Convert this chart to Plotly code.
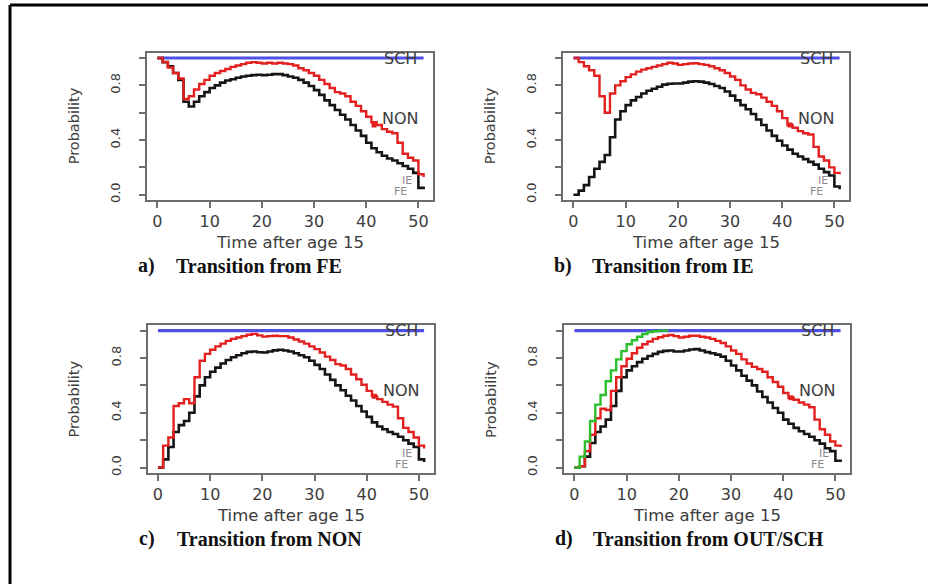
import plotly.graph_objects as go

W, H = 928, 587

# ---------------- data ----------------
time = list(range(52))

# Panel a) Transition from FE
a_red = [1.0, 0.97, 0.93, 0.89, 0.85, 0.70, 0.72, 0.77, 0.81, 0.84, 0.87, 0.89, 0.905, 0.92, 0.935,
         0.945, 0.955, 0.965, 0.97, 0.965, 0.96, 0.965, 0.96, 0.965, 0.96, 0.955, 0.945, 0.925, 0.91,
         0.89, 0.87, 0.84, 0.81, 0.78, 0.75, 0.74, 0.72, 0.68, 0.65, 0.61, 0.57, 0.53, 0.51, 0.48,
         0.46, 0.45, 0.38, 0.30, 0.27, 0.25, 0.15, 0.13]
a_black = [1.0, 0.97, 0.94, 0.89, 0.84, 0.68, 0.645, 0.68, 0.72, 0.75, 0.78, 0.80, 0.82, 0.835, 0.845,
           0.855, 0.865, 0.87, 0.875, 0.878, 0.875, 0.878, 0.882, 0.882, 0.875, 0.865, 0.855, 0.84,
           0.82, 0.795, 0.765, 0.73, 0.69, 0.655, 0.62, 0.585, 0.55, 0.51, 0.47, 0.43, 0.38, 0.34,
           0.31, 0.285, 0.265, 0.25, 0.23, 0.21, 0.19, 0.16, 0.05, 0.04]

# Panel b) Transition from IE
b_red = [1.0, 0.97, 0.94, 0.91, 0.87, 0.72, 0.60, 0.74, 0.80, 0.83, 0.86, 0.88, 0.90, 0.915, 0.925,
         0.935, 0.945, 0.955, 0.965, 0.96, 0.95, 0.955, 0.96, 0.962, 0.955, 0.95, 0.94, 0.925, 0.91,
         0.89, 0.865, 0.84, 0.80, 0.77, 0.745, 0.735, 0.71, 0.68, 0.65, 0.61, 0.56, 0.51, 0.49, 0.465,
         0.45, 0.44, 0.35, 0.28, 0.25, 0.20, 0.16, 0.15]
b_black = [0.0, 0.03, 0.07, 0.13, 0.19, 0.24, 0.29, 0.42, 0.55, 0.61, 0.655, 0.69, 0.715, 0.74, 0.76,
           0.775, 0.79, 0.805, 0.812, 0.813, 0.813, 0.82, 0.827, 0.83, 0.827, 0.82, 0.81, 0.795, 0.78,
           0.755, 0.725, 0.69, 0.655, 0.625, 0.59, 0.55, 0.51, 0.47, 0.43, 0.395, 0.36, 0.33, 0.30,
           0.28, 0.26, 0.24, 0.22, 0.19, 0.165, 0.14, 0.06, 0.04]

# Panel c) Transition from NON
c_red = [0.0, 0.16, 0.22, 0.45, 0.47, 0.50, 0.47, 0.66, 0.78, 0.83, 0.86, 0.885, 0.905, 0.925, 0.94,
         0.95, 0.96, 0.97, 0.976, 0.965, 0.956, 0.96, 0.962, 0.96, 0.96, 0.95, 0.935, 0.92, 0.905,
         0.885, 0.865, 0.84, 0.81, 0.785, 0.755, 0.745, 0.72, 0.68, 0.645, 0.605, 0.56, 0.52, 0.50,
         0.48, 0.46, 0.445, 0.36, 0.29, 0.26, 0.22, 0.16, 0.14]
c_black = [0.0, 0.06, 0.15, 0.26, 0.31, 0.34, 0.40, 0.52, 0.60, 0.66, 0.70, 0.73, 0.76, 0.785, 0.805,
           0.82, 0.835, 0.845, 0.848, 0.842, 0.84, 0.848, 0.856, 0.86, 0.855, 0.848, 0.835, 0.82,
           0.805, 0.78, 0.75, 0.72, 0.68, 0.64, 0.60, 0.565, 0.525, 0.49, 0.45, 0.41, 0.37, 0.33,
           0.30, 0.28, 0.26, 0.245, 0.225, 0.20, 0.175, 0.15, 0.06, 0.04]

# Panel d) Transition from OUT/SCH
d_green = [0.0, 0.08, 0.19, 0.34, 0.46, 0.53, 0.63, 0.71, 0.79, 0.85, 0.90, 0.93, 0.955, 0.975, 0.99,
           0.995, 1.0, 1.0, 1.0]
d_red = [0.0, 0.01, 0.12, 0.24, 0.36, 0.43, 0.42, 0.56, 0.66, 0.74, 0.795, 0.835, 0.875, 0.90, 0.92,
         0.94, 0.952, 0.963, 0.968, 0.96, 0.95, 0.955, 0.962, 0.962, 0.955, 0.95, 0.94, 0.925, 0.91,
         0.885, 0.855, 0.83, 0.79, 0.76, 0.735, 0.72, 0.70, 0.66, 0.625, 0.59, 0.545, 0.51, 0.495,
         0.475, 0.46, 0.44, 0.35, 0.28, 0.24, 0.19, 0.16, 0.15]
d_black = [0.0, 0.01, 0.08, 0.18, 0.26, 0.30, 0.35, 0.45, 0.56, 0.66, 0.71, 0.74, 0.77, 0.795, 0.815,
           0.83, 0.845, 0.852, 0.855, 0.848, 0.848, 0.855, 0.862, 0.865, 0.855, 0.843, 0.835, 0.825,
           0.81, 0.78, 0.745, 0.71, 0.67, 0.635, 0.60, 0.555, 0.515, 0.475, 0.435, 0.40, 0.35, 0.32,
           0.29, 0.265, 0.245, 0.225, 0.20, 0.175, 0.14, 0.12, 0.05, 0.04]

sch_x = [0, 51]
sch_y = [1.0, 1.0]

state_labels = ["SCH", "NON", "IE", "FE"]
label_x = [46.6, 46.6, 47.8, 46.6]
label_y = [1.0, 0.56, 0.105, 0.02]

non_mark_x = [41.5, 41.5, 41.5, 41.5]
non_mark_y = [0.51, 0.51, 0.52, 0.51]

captions = ["Transition from FE", "Transition from IE", "Transition from NON", "Transition from OUT/SCH"]
letters = ["a)", "b)", "c)", "d)"]

x_ticks = [0, 10, 20, 30, 40, 50]
y_ticks = [0.0, 0.2, 0.4, 0.6, 0.8, 1.0]
y_ticktext = ["0.0", "", "0.4", "", "0.8", ""]

# ---------------- layout geometry (pixels) ----------------
boxes = [  # left, right, top, bottom
    (147, 433, 52.8, 201.2),
    (563, 849, 52.8, 201.2),
    (147.5, 433.5, 326.8, 475.5),
    (564, 850, 326.8, 475.5),
]
panel_series = [
    (a_red, a_black, None),
    (b_red, b_black, None),
    (c_red, c_black, None),
    (d_red, d_black, d_green),
]

RED = "#e3201f"
BLACK = "#151515"
BLUE = "#5050e4"
GREEN = "#2cbf2c"
AXC = "#6e6e6e"
TXT = "#3c3c3c"

fig = go.Figure()
annotations = []
layout_axes = {}


def px2x(p):
    return p / W


def px2y(p):
    return 1 - p / H


for i, ((l, r, t, b), (red, black, green)) in enumerate(zip(boxes, panel_series)):
    n = i + 1
    xa = "x" if n == 1 else f"x{n}"
    ya = "y" if n == 1 else f"y{n}"
    xkey = "xaxis" if n == 1 else f"xaxis{n}"
    ykey = "yaxis" if n == 1 else f"yaxis{n}"

    fig.add_trace(go.Scatter(x=sch_x, y=sch_y, mode="lines", line=dict(color=BLUE, width=3.2),
                             xaxis=xa, yaxis=ya, showlegend=False, hoverinfo="skip"))
    fig.add_trace(go.Scatter(x=time, y=black, mode="lines", line=dict(color=BLACK, width=2.6, shape="hv"),
                             xaxis=xa, yaxis=ya, showlegend=False))
    fig.add_trace(go.Scatter(x=time, y=red, mode="lines", line=dict(color=RED, width=2.4, shape="hv"),
                             xaxis=xa, yaxis=ya, showlegend=False))
    if green is not None:
        fig.add_trace(go.Scatter(x=time[:len(green)], y=green, mode="lines",
                                 line=dict(color=GREEN, width=2.4, shape="hv"),
                                 xaxis=xa, yaxis=ya, showlegend=False))
    fig.add_trace(go.Scatter(x=[non_mark_x[i]], y=[non_mark_y[i]], mode="markers",
                             marker=dict(color=RED, size=5, symbol="square"),
                             xaxis=xa, yaxis=ya, showlegend=False))

    layout_axes[xkey] = dict(
        domain=[px2x(l), px2x(r)], range=[-2, 52.8], anchor=ya,
        showline=True, linecolor=AXC, linewidth=1.6, mirror=True,
        ticks="outside", ticklen=6, tickwidth=1.5, tickcolor=AXC,
        tickvals=x_ticks, ticktext=[str(v) for v in x_ticks],
        tickfont=dict(family="DejaVu Sans", size=16, color=TXT),
        showgrid=False, zeroline=False, ticklabelstandoff=0,
    )
    layout_axes[ykey] = dict(
        domain=[px2y(b), px2y(t)], range=[-0.04, 1.04], anchor=xa,
        showline=True, linecolor=AXC, linewidth=1.6, mirror=True,
        ticks="outside", ticklen=6, tickwidth=1.5, tickcolor=AXC,
        tickvals=y_ticks, ticktext=y_ticktext, tickangle=-90,
        tickfont=dict(family="DejaVu Sans", size=13, color=TXT),
        showgrid=False, zeroline=False, ticklabelstandoff=14,
    )

    # state labels
    for s, lx, ly in zip(state_labels, label_x, label_y):
        small = s in ("IE", "FE")
        annotations.append(dict(
            x=lx, y=ly, xref=xa, yref=ya, text=s, showarrow=False,
            font=dict(family="DejaVu Sans", size=11 if small else 16,
                      color="#8a8a8a" if small else TXT),
            xanchor="center", yanchor="middle"))

    # axis titles
    annotations.append(dict(
        x=px2x(l - 73), y=0.5, xref="paper", yref=ya, text="Probability", showarrow=False,
        textangle=-90, font=dict(family="DejaVu Sans", size=14.5, color=TXT),
        xanchor="center", yanchor="middle"))
    annotations.append(dict(
        x=px2x((l + r) / 2), y=px2y(b + 43), xref="paper", yref="paper",
        text="Time after age 15", showarrow=False,
        font=dict(family="DejaVu Sans", size=16.5, color=TXT),
        xanchor="center", yanchor="middle"))

    # captions
    annotations.append(dict(
        x=px2x(l - 11), y=px2y(b + 66), xref="paper", yref="paper", text="<b>" + letters[i] + "</b>",
        showarrow=False, font=dict(family="Liberation Serif", size=20, color="#111"),
        xanchor="left", yanchor="middle"))
    annotations.append(dict(
        x=px2x(l + 27), y=px2y(b + 66), xref="paper", yref="paper",
        text="<b>" + captions[i] + "</b>", showarrow=False,
        font=dict(family="Liberation Serif", size=20, color="#111"),
        xanchor="left", yanchor="middle"))

shapes = [
    dict(type="line", xref="paper", yref="paper", x0=px2x(10), x1=1.0, y0=px2y(5), y1=px2y(5),
         line=dict(color="#000", width=3)),
    dict(type="line", xref="paper", yref="paper", x0=px2x(10), x1=px2x(10), y0=px2y(5), y1=0.0,
         line=dict(color="#000", width=3)),
]

fig.update_layout(
    width=W, height=H, margin=dict(l=0, r=0, t=0, b=0),
    paper_bgcolor="white", plot_bgcolor="white",
    annotations=annotations, shapes=shapes, showlegend=False,
    **layout_axes,
)

fig.write_html("out.html", config={"displayModeBar": False},
               post_script="document.body.style.margin='0';document.body.style.overflow='hidden';")
